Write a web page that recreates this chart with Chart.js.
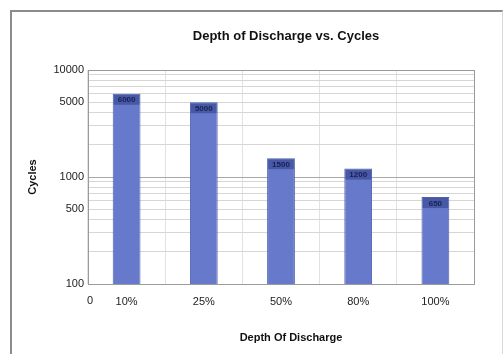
<!DOCTYPE html>
<html>
<head>
<meta charset="utf-8">
<script src="https://cdn.jsdelivr.net/npm/chart.js@4"></script>
<style>
  html, body { margin: 0; padding: 0; background: #fff; }
  #wrap { position: relative; width: 504px; height: 354px; }
  #frame {
    position: absolute; left: 10px; top: 10px; width: 490px; height: 344px;
    border-top: 2px solid #8c8c8c; border-left: 2px solid #8c8c8c; border-right: 1px solid #d8d8d8;
  }
  canvas { position: absolute; left: 0; top: 0; }
</style>
</head>
<body>
<div id="wrap">
  <div id="frame"></div>
  <canvas id="chart" width="504" height="354"></canvas>
</div>
<script>
// dati
const depths = ["10%", "25%", "50%", "80%", "100%"];
const cycles = [6000, 5000, 1500, 1200, 650];
const cycleLabels = ["6000", "5000", "1500", "1200", "650"];
const yTicks = [100, 200, 300, 400, 500, 600, 700, 800, 900, 1000,
  2000, 3000, 4000, 5000, 6000, 7000, 8000, 9000, 10000];
const yShown = [100, 500, 1000, 5000, 10000];
const chartTitle = "Depth of Discharge vs. Cycles";
const xTitle = "Depth Of Discharge";

const fontName = "'Liberation Sans', Arial, sans-serif";

// titoli, bordo dell'area del grafico, etichetta "0" e valori sulle barre
const extras = {
  id: "extras",
  afterDraw(chart) {
    const ctx = chart.ctx;
    const a = chart.chartArea;
    ctx.save();
    ctx.strokeStyle = "#9a9a9a";
    ctx.lineWidth = 1;
    ctx.strokeRect(a.left + 0.5, a.top + 0.5, a.right - a.left, a.bottom - a.top);

    ctx.textAlign = "center";
    ctx.textBaseline = "middle";

    ctx.fillStyle = "#111";
    ctx.font = "bold 13px " + fontName;
    ctx.fillText(chartTitle, (a.left + a.right) / 2 + 5, 36);
    ctx.font = "bold 11px " + fontName;
    ctx.fillText(xTitle, (a.left + a.right) / 2 + 10, 338);

    ctx.fillStyle = "#222";
    ctx.font = "11px " + fontName;
    ctx.fillText("0", a.left + 2, a.bottom + 17);

    const meta = chart.getDatasetMeta(0);
    ctx.font = "bold 8px " + fontName;
    meta.data.forEach((bar, i) => {
      ctx.fillStyle = "rgba(40,55,130,0.5)";
      ctx.fillRect(bar.x - bar.width / 2 + 1, bar.y + 1, bar.width - 2, 10);
      ctx.fillStyle = "#1a2150";
      ctx.fillText(cycleLabels[i], bar.x, bar.y + 6.5);
    });
    ctx.restore();
  },
};

const ctx = document.getElementById("chart").getContext("2d");

new Chart(ctx, {
  type: "bar",
  data: {
    labels: depths,
    datasets: [
      {
        data: cycles,
        backgroundColor: "#6779ca",
        borderColor: "#4e5fae",
        borderWidth: 1,
        barPercentage: 0.72,
        categoryPercentage: 0.5,
      },
    ],
  },
  options: {
    responsive: false,
    animation: false,
    layout: { padding: { left: 10, right: 30, top: 70, bottom: 8 } },
    plugins: {
      legend: { display: false },
      tooltip: { enabled: false },
    },
    scales: {
      x: {
        grid: { color: "#e2e2e2", drawTicks: false },
        border: { color: "#9a9a9a" },
        ticks: {
          color: "#222",
          font: { family: fontName, size: 11 },
          padding: 11,
        },
        afterFit(scale) {
          scale.height = 62;
        },
      },
      y: {
        type: "logarithmic",
        min: 100,
        max: 10000,
        afterBuildTicks(scale) {
          scale.ticks = yTicks.map((v) => ({ value: v }));
        },
        grid: {
          drawTicks: false,
          color: (c) => {
            const v = c.tick ? c.tick.value : 0;
            return [100, 1000, 10000].includes(v) ? "#a8a8a8" : "#d6d6d6";
          },
        },
        border: { color: "#9a9a9a" },
        ticks: {
          color: "#222",
          font: { family: fontName, size: 11 },
          padding: 4,
          autoSkip: false,
          callback: (v) => (yShown.includes(v) ? String(v) : ""),
        },
        title: {
          display: true,
          text: "Cycles",
          color: "#111",
          font: { family: fontName, size: 11, weight: "bold" },
          padding: { top: 16, bottom: 0 },
        },
        afterFit(scale) {
          scale.width = 78;
        },
      },
    },
  },
  plugins: [extras],
});
</script>
</body>
</html>
